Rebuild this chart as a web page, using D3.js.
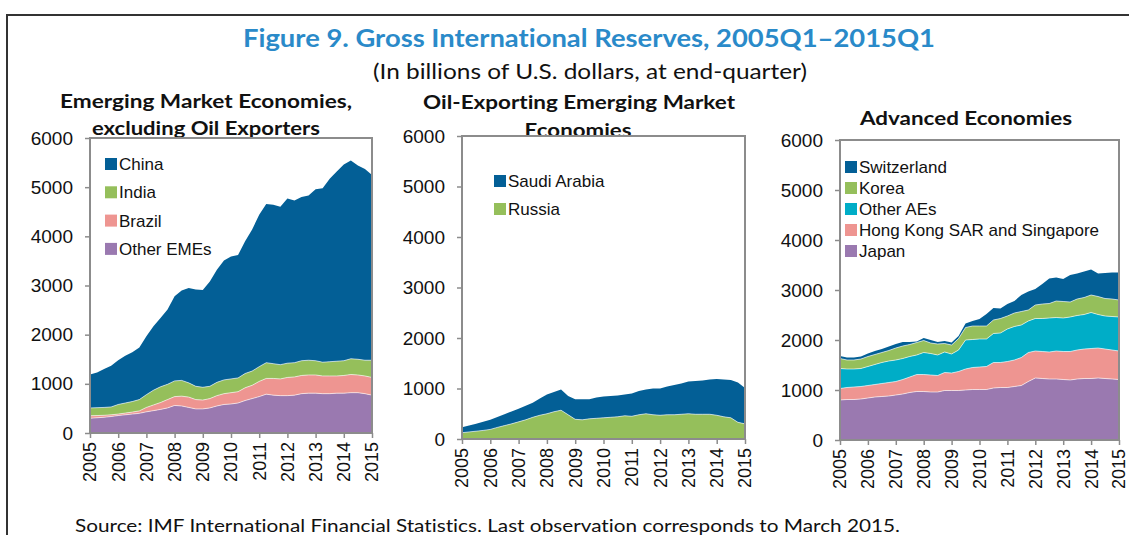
<!DOCTYPE html>
<html>
<head>
<meta charset="utf-8">
<script src="https://cdn.jsdelivr.net/npm/d3@7"></script>
<style>
  html, body { margin: 0; padding: 0; background: #fff; }
  svg { display: block; }
  text { font-variant-ligatures: none; font-feature-settings: "liga" 0, "clig" 0; }
</style>
</head>
<body>
<svg id="chart" width="1129" height="535"></svg>
<script>
// ---------- DATA (billions of U.S. dollars, quarterly 2005Q1–2015Q1) ----------
const tickYears = ["2005","2006","2007","2008","2009","2010","2011","2012","2013","2014","2015"];
const yTicks = [0, 1000, 2000, 3000, 4000, 5000, 6000];

// Panel 1: Emerging Market Economies, excluding Oil Exporters
const otherEMEs = [300,310,320,335,355,370,385,400,430,455,480,510,560,550,520,490,490,510,550,580,590,610,660,700,740,790,770,760,760,770,800,810,810,800,800,810,810,820,820,800,770];
const brazil    = [50,45,40,35,30,35,40,50,90,115,140,170,180,200,210,190,180,190,210,220,230,230,260,270,310,320,340,340,370,370,370,370,370,360,360,350,360,370,360,360,360];
const india     = [160,160,160,160,195,205,215,230,260,300,320,310,320,320,290,270,260,250,270,280,280,280,290,290,300,320,300,290,290,290,300,300,290,280,290,300,300,320,320,320,350];
const china     = [680,715,780,840,900,960,1000,1060,1190,1300,1400,1520,1720,1830,1930,1970,1980,2130,2290,2430,2490,2500,2690,2880,3090,3230,3230,3210,3350,3300,3330,3350,3490,3540,3720,3860,3990,4030,3940,3890,3770];

// Panel 2: Oil-Exporting Emerging Market Economies
const russia    = [125,140,155,170,190,230,265,300,340,380,430,470,500,540,570,480,390,380,400,410,420,430,440,460,450,480,500,480,470,480,480,490,500,490,490,490,470,440,420,330,300];
const saudi     = [110,125,145,170,190,205,225,245,260,280,290,330,380,390,410,370,395,405,385,410,420,420,420,420,450,470,480,520,530,560,590,610,640,660,670,690,720,740,750,790,710];

// Panel 3: Advanced Economies
const japan     = [800,810,810,820,840,860,870,880,900,920,950,970,970,960,960,990,990,990,1000,1010,1010,1010,1040,1050,1050,1070,1090,1170,1240,1230,1220,1220,1210,1200,1220,1230,1230,1240,1230,1220,1210];
const hkSing    = [230,240,250,250,250,250,260,270,270,290,310,340,340,340,330,360,350,380,420,440,450,460,510,500,520,530,560,580,540,540,540,560,560,570,580,590,600,600,590,580,570];
const otherAEs  = [400,370,360,360,380,400,420,430,430,420,410,390,440,430,410,410,380,430,580,560,560,550,580,590,650,670,650,630,650,660,680,670,670,690,690,690,720,670,660,670,680];
const korea     = [200,180,180,190,200,200,200,210,240,250,240,250,240,210,220,170,180,230,250,270,260,260,270,290,260,270,270,220,270,290,290,330,330,300,330,340,350,360,350,350,340];
const switzerland = [50,50,50,50,60,70,70,80,80,80,50,20,50,60,40,50,50,50,80,100,140,240,240,200,240,240,330,370,320,400,500,470,450,540,510,520,510,460,510,530,550];

// ---------- STYLE ----------
const C = {
  blue: "#035f96",
  green: "#95bf5b",
  pink: "#ee9591",
  purple: "#9a79b0",
  cyan: "#00adc7"
};
const axisColor = "#8c8c8c";
const tickFont = "'Liberation Sans', Arial, sans-serif";
const titleFont = "Lato, 'Open Sans', sans-serif";

const svg = d3.select("#chart");

// Outer frame
svg.append("path")
  .attr("d", "M7,535 L7,15 L1129,15")
  .attr("fill", "none").attr("stroke", "#333").attr("stroke-width", 2);

// Titles
svg.append("text")
  .attr("x", 589).attr("y", 47)
  .attr("text-anchor", "middle")
  .attr("font-family", titleFont).attr("font-weight", "bold")
  .attr("font-size", 25).attr("fill", "#2a8ac9")
  .attr("textLength", 692).attr("lengthAdjust", "spacingAndGlyphs")
  .text("Figure 9. Gross International Reserves, 2005Q1–2015Q1");

svg.append("text")
  .attr("x", 590).attr("y", 79)
  .attr("text-anchor", "middle")
  .attr("font-family", titleFont)
  .attr("font-size", 21).attr("fill", "#111")
  .attr("textLength", 434).attr("lengthAdjust", "spacingAndGlyphs")
  .text("(In billions of U.S. dollars, at end-quarter)");

svg.append("text")
  .attr("x", 75).attr("y", 532)
  .attr("font-family", titleFont)
  .attr("font-size", 18).attr("fill", "#111")
  .attr("textLength", 825).attr("lengthAdjust", "spacingAndGlyphs")
  .text("Source: IMF International Financial Statistics. Last observation corresponds to March 2015.");

function panelTitle(lines) {
  lines.forEach(l => {
    svg.append("text")
      .attr("x", l.x).attr("y", l.y)
      .attr("text-anchor", "middle")
      .attr("font-family", titleFont).attr("font-weight", "bold")
      .attr("font-size", 19.5).attr("fill", "#111")
      .attr("textLength", l.w).attr("lengthAdjust", "spacingAndGlyphs")
      .text(l.t);
  });
}

function drawPanel(p) {
  const n = p.series[0].values.length;
  const rows = d3.range(n).map(i => {
    const r = { t: 2005 + i / 4 };
    p.series.forEach(s => r[s.key] = s.values[i]);
    return r;
  });
  const x = d3.scaleLinear().domain([2005, 2015]).range([p.x0, p.x1]);
  const y = d3.scaleLinear().domain([0, 6000]).range([p.y0, p.y1]);
  const stack = d3.stack().keys(p.series.map(s => s.key));
  const layers = stack(rows);
  const area = d3.area().x(d => x(d.data.t)).y0(d => y(d[0])).y1(d => y(d[1]));
  const g = svg.append("g");
  g.selectAll("path.layer").data(layers).join("path")
    .attr("class", "layer")
    .attr("d", area)
    .attr("fill", (d, i) => p.series[i].color);
  // thin white separators on top of lower layers
  const topLine = d3.line().x(d => x(d.data.t)).y(d => y(d[1]));
  g.selectAll("path.sep").data(layers.slice(0, -1)).join("path")
    .attr("class", "sep")
    .attr("d", topLine)
    .attr("fill", "none").attr("stroke", "#fff").attr("stroke-width", 0.7).attr("stroke-opacity", 0.85);

  // plot frame
  g.append("rect")
    .attr("x", p.x0).attr("y", p.y1)
    .attr("width", p.x1 - p.x0).attr("height", p.y0 - p.y1)
    .attr("fill", "none").attr("stroke", axisColor).attr("stroke-width", 2);

  // y axis
  const ya = d3.axisLeft(y).tickValues(yTicks).tickSize(5).tickPadding(12).tickFormat(d3.format("d"));
  const yg = g.append("g").attr("transform", `translate(${p.x0},0)`).call(ya);
  yg.select(".domain").remove();
  yg.selectAll("line").attr("stroke", axisColor).attr("stroke-width", 1.5);
  yg.selectAll("text").attr("font-family", tickFont).attr("font-size", 19).attr("fill", "#111");

  // x axis
  const xa = d3.axisBottom(x).tickValues(tickYears.map(Number)).tickSize(5).tickPadding(0)
    .tickFormat((d, i) => tickYears[i]);
  const xg = g.append("g").attr("transform", `translate(0,${p.y0})`).call(xa);
  xg.select(".domain").remove();
  xg.selectAll("line").attr("stroke", axisColor).attr("stroke-width", 1.5);
  xg.selectAll("text")
    .attr("font-family", tickFont).attr("font-size", 18).attr("fill", "#111")
    .attr("text-anchor", "end")
    .attr("transform", "rotate(-90)")
    .attr("x", -9).attr("y", 0).attr("dy", "0.33em");

  // legend
  p.legend.items.forEach((it, i) => {
    const cy = p.legend.y + i * p.legend.dy;
    g.append("rect").attr("x", p.legend.x).attr("y", cy - 6).attr("width", 12).attr("height", 12).attr("fill", it.color);
    g.append("text").attr("x", p.legend.x + 14).attr("y", cy).attr("dy", "0.35em")
      .attr("font-family", tickFont).attr("font-size", 17).attr("fill", "#111").text(it.label);
  });
}

panelTitle([
  { t: "Emerging Market Economies,", x: 206, y: 108, w: 292 },
  { t: "excluding Oil Exporters", x: 206, y: 135, w: 228 }
]);
panelTitle([
  { t: "Oil-Exporting Emerging Market", x: 579, y: 109, w: 312 },
  { t: "Economies", x: 578, y: 137, w: 107 }
]);
panelTitle([
  { t: "Advanced Economies", x: 966, y: 125, w: 212 }
]);

drawPanel({
  x0: 90, x1: 372, y0: 433, y1: 138,
  series: [
    { key: "Other EMEs", values: otherEMEs, color: C.purple },
    { key: "Brazil", values: brazil, color: C.pink },
    { key: "India", values: india, color: C.green },
    { key: "China", values: china, color: C.blue }
  ],
  legend: { x: 105, y: 164, dy: 28.3, items: [
    { label: "China", color: C.blue },
    { label: "India", color: C.green },
    { label: "Brazil", color: C.pink },
    { label: "Other EMEs", color: C.purple }
  ]}
});

drawPanel({
  x0: 462, x1: 745, y0: 439, y1: 136,
  series: [
    { key: "Russia", values: russia, color: C.green },
    { key: "Saudi Arabia", values: saudi, color: C.blue }
  ],
  legend: { x: 494, y: 181, dy: 28, items: [
    { label: "Saudi Arabia", color: C.blue },
    { label: "Russia", color: C.green }
  ]}
});

drawPanel({
  x0: 840, x1: 1119, y0: 440, y1: 140,
  series: [
    { key: "Japan", values: japan, color: C.purple },
    { key: "Hong Kong SAR and Singapore", values: hkSing, color: C.pink },
    { key: "Other AEs", values: otherAEs, color: C.cyan },
    { key: "Korea", values: korea, color: C.green },
    { key: "Switzerland", values: switzerland, color: C.blue }
  ],
  legend: { x: 845, y: 167, dy: 21, items: [
    { label: "Switzerland", color: C.blue },
    { label: "Korea", color: C.green },
    { label: "Other AEs", color: C.cyan },
    { label: "Hong Kong SAR and Singapore", color: C.pink },
    { label: "Japan", color: C.purple }
  ]}
});
</script>
</body>
</html>
